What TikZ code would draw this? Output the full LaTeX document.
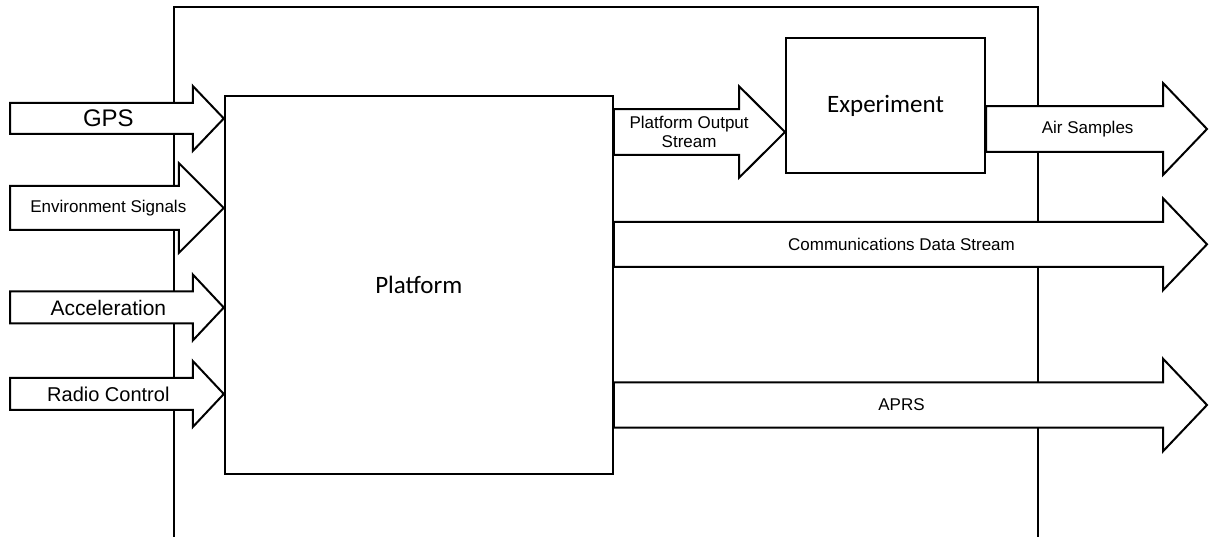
\documentclass[tikz,border=0pt]{standalone}
\usepackage{fontspec}
\setmainfont{Liberation Sans}
\newfontfamily\calibri{Carlito}
\usepackage{tikz}
\usetikzlibrary{calc,positioning}

% block arrow: [label pos], start, end, shaft half width, head half width, head length, label
\newcommand\blockarrow[7][.46]{%
  \coordinate (ba-s) at (#2);
  \coordinate (ba-e) at (#3);
  \draw[fill=white] ($(ba-s)+(0,-#4)$) -- ($(ba-e)+(-#6,-#4)$) -- ($(ba-e)+(-#6,-#5)$) -- (ba-e)
    -- ($(ba-e)+(-#6,#5)$) -- ($(ba-e)+(-#6,#4)$) -- ($(ba-s)+(0,#4)$) -- cycle;
  \path (ba-s) -- (ba-e) node[pos=#1, flowtext] {#7};
}
\newcommand\bigtext{\fontsize{24bp}{26bp}\selectfont}
\newcommand\midtext{\fontsize{21bp}{23bp}\selectfont}
\newcommand\smalltext{\fontsize{17bp}{19bp}\selectfont}

\begin{document}
\begin{tikzpicture}[
    x=1bp, y=-1bp,
    line width=2bp,
    block/.style={draw, fill=white, font=\calibri\fontsize{25bp}{27bp}\selectfont},
    flowtext/.style={align=center, inner sep=0pt, font=\smalltext}
]
\useasboundingbox (0,0) rectangle (1209,537);

% system boundary, open at the bottom
\draw (174,537) |- (1037.5,7.5) -- (1037.5,537);

\node[block, minimum width=388bp, minimum height=378bp] (platform) at (418.8,285) {Platform};
\node[block, minimum width=199bp, minimum height=135bp] (experiment) at (885.5,105.8) {Experiment};

% inputs
\coordinate (gpsin) at (10,118.5);
\coordinate (envin) at (10,208);
\coordinate (accin) at (10,307.5);
\coordinate (radin) at (10,394);
\blockarrow{gpsin}{platform.west |- gpsin}{15.5}{32.5}{31}{\bigtext GPS}
\blockarrow{envin}{platform.west |- envin}{22}{45}{45}{Environment Signals}
\blockarrow{accin}{platform.west |- accin}{16}{33}{31}{\midtext Acceleration}
\blockarrow{radin}{platform.west |- radin}{16}{33}{31}{\fontsize{20bp}{22bp}\selectfont Radio Control}

% outputs
\coordinate (posout) at (platform.east |- 0,132);
\coordinate (airout) at (experiment.east |- 0,129);
\coordinate (comout) at (platform.east |- 0,244.3);
\coordinate (aprsout) at (platform.east |- 0,405);
\blockarrow[.44]{posout}{experiment.west |- posout}{22.8}{45.8}{46}{Platform Output\\Stream}
\blockarrow{airout}{1207,129}{22.8}{46}{44}{Air Samples}
\blockarrow[.485]{comout}{1207,244.3}{22.5}{46}{44}{Communications Data Stream}
\blockarrow[.485]{aprsout}{1207,405}{22.5}{46.3}{44}{APRS}
\end{tikzpicture}
\end{document}
